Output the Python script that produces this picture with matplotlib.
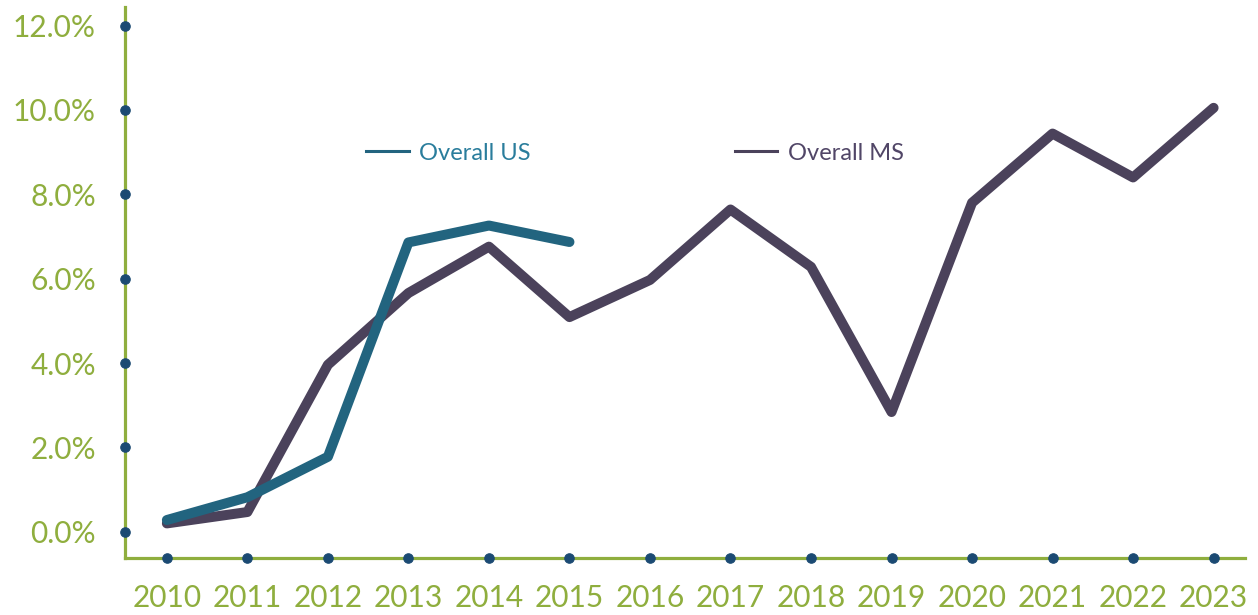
import matplotlib
matplotlib.use("Agg")
import matplotlib.pyplot as plt
from matplotlib.lines import Line2D
from matplotlib.ticker import FuncFormatter

years = list(range(2010, 2024))
overall_ms = [0.20, 0.47, 3.96, 5.66, 6.76, 5.09, 5.97, 7.64, 6.28, 2.84, 7.80, 9.44, 8.40, 10.05]
us_years = list(range(2010, 2016))
overall_us = [0.28, 0.82, 1.78, 6.86, 7.26, 6.87]
y_ticks = [0, 2, 4, 6, 8, 10, 12]

green = "#8fae3e"
navy = "#1b4a73"
us_col = "#22647f"
ms_col = "#4b425b"

plt.rcParams["font.family"] = ["Lato", "DejaVu Sans"]

fig = plt.figure(figsize=(12.58, 6.15), dpi=100)
ax = fig.add_axes([125 / 1258, 57 / 615, 1120 / 1258, 551 / 615])

ax.plot(years, overall_ms, color=ms_col, lw=7.2, solid_capstyle="round",
        solid_joinstyle="round", zorder=3)
ax.plot(us_years, overall_us, color=us_col, lw=7.2, solid_capstyle="round",
        solid_joinstyle="round", zorder=4)

ax.set_xlim(2009.48, 2023.39)
ax.set_ylim(-0.62, 12.44)
ax.set_xticks(years)
ax.set_yticks(y_ticks)
ax.yaxis.set_major_formatter(FuncFormatter(lambda v, p: f"{v:.1f}%"))

for s in ["top", "right"]:
    ax.spines[s].set_visible(False)
for s in ["left", "bottom"]:
    ax.spines[s].set_color(green)
    ax.spines[s].set_linewidth(2.3)

ax.tick_params(axis="both", colors=green, labelsize=21.5, length=0)
ax.tick_params(axis="x", pad=19)
ax.tick_params(axis="y", pad=21)

# dots as tick marks, drawn above the spines
ax.xaxis.set_zorder(2.7)
ax.yaxis.set_zorder(2.7)
for tick in ax.xaxis.get_major_ticks() + ax.yaxis.get_major_ticks():
    tick.tick1line.set_marker("o")
    tick.tick1line.set_markersize(6.8)
    tick.tick1line.set_markerfacecolor(navy)
    tick.tick1line.set_markeredgecolor(navy)
    tick.tick1line.set_visible(True)

handles = [Line2D([], [], color=us_col, lw=2.2), Line2D([], [], color=ms_col, lw=2.2)]
leg = fig.legend(handles, ["Overall US", "Overall MS"], ncol=2, frameon=False,
                 loc="center left", bbox_to_anchor=(366 / 1258, 1 - 153 / 615),
                 borderpad=0, borderaxespad=0, handlelength=1.8, handletextpad=0.45,
                 columnspacing=8.65, prop={"size": 17})
for txt, c in zip(leg.get_texts(), ["#2a7d9c", "#514667"]):
    txt.set_color(c)

fig.savefig("out.png", dpi=100)
